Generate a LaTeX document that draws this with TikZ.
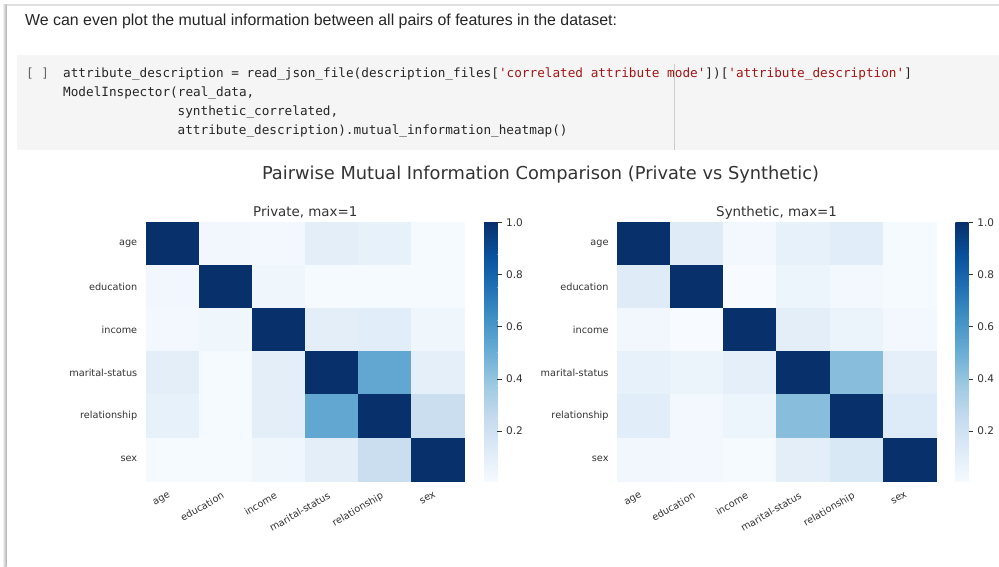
\documentclass[tikz,border=0pt]{standalone}
\usepackage{fontspec}
\setmainfont{Liberation Sans}
\newfontfamily\plotfont{DejaVu Sans}
\newfontfamily\codefont{DejaVu Sans Mono}
\usepackage{tikz}

% Blues colour map stops
\definecolor{b0}{HTML}{F7FBFF}
\definecolor{b1}{HTML}{DEEBF7}
\definecolor{b2}{HTML}{C6DBEF}
\definecolor{b3}{HTML}{9ECAE1}
\definecolor{b4}{HTML}{6BAED6}
\definecolor{b5}{HTML}{4292C6}
\definecolor{b6}{HTML}{2171B5}
\definecolor{b7}{HTML}{08519C}
\definecolor{b8}{HTML}{08306B}
\definecolor{labgrey}{HTML}{333333}
\definecolor{codebg}{HTML}{F5F5F5}
\definecolor{codegrey}{HTML}{262626}
\definecolor{strred}{HTML}{A31515}

\tikzset{
  ticklab/.style={font=\plotfont\fontsize{9.7}{11}\selectfont, text=labgrey, inner sep=0pt},
  barlab/.style={font=\plotfont\fontsize{10.5}{12}\selectfont, text=labgrey, inner sep=0pt},
  subtitle/.style={font=\plotfont\fontsize{13.4}{15}\selectfont, text=labgrey, inner sep=0pt},
  codeline/.style={font=\codefont\fontsize{12.7}{15}\selectfont, text=codegrey, anchor=base west, inner sep=0pt},
}

% one cell of a heat map: column, row, value
\newcommand{\heatcell}[3]{%
  \pgfmathtruncatemacro{\segk}{min(7,floor(#3*8))}%
  \pgfmathtruncatemacro{\segn}{\segk+1}%
  \pgfmathtruncatemacro{\segt}{round((#3*8-\segk)*100)}%
  \colorlet{cellfill}{b\segn!\segt!b\segk}%
  \fill[cellfill, draw=cellfill, line width=0.3pt] (#1*53.1,#2*43.2) rectangle +(53.1,43.2);%
}

% heat map with labels and colour bar: prefix, x shift, title, matrix
\newcommand{\heatmap}[4]{%
  \begin{scope}[shift={(#2,221.7)}]
    \foreach \rowvals [count=\r from 0] in {#4}
      \foreach \v [count=\c from 0] in \rowvals
        {\heatcell{\c}{\r}{\v}}
    \node[subtitle, anchor=base] (#1-title) at (159.3,-5) {#3};
    \foreach \lab [count=\i from 0] in {age,education,income,marital-status,relationship,sex} {
      \node[ticklab, anchor=east] (#1-row-\i) at (-8.6,\i*43.2+21.6) {\lab};
      \node[ticklab, rotate=30, anchor=north east] (#1-col-\i) at (\i*53.1+22,269.5) {\lab};
    }
    % colour bar
    \begin{scope}
      \clip (338,0) rectangle (351.3,259.3);
      \foreach \k [evaluate=\k as \kk using int(\k+1)] in {0,...,7}
        \shade[bottom color=b\k, top color=b\kk]
          (338,261.6-32.625*\k) rectangle (351.3,261.6-32.625*\kk);
    \end{scope}
    \foreach \v [count=\t] in {0.2,0.4,0.6,0.8,1.0}
      \draw[labgrey, line width=0.6pt] (351.3,261.6-261*\v) -- +(4.5,0)
        node[barlab, anchor=west, xshift=4pt] (#1-tick-\t) {\v};
  \end{scope}%
}

\begin{document}
\begin{tikzpicture}[x=1pt,y=-1pt]
  \fill[white] (0,0) rectangle (999,567);
  \useasboundingbox (0,0) rectangle (999,567);

  % card edges
  \shade[left color=white, right color=black!30] (2,5) rectangle (6.5,567);
  \draw[black!12, line width=1.5pt] (6.5,5) -- (999,5);

  \node[anchor=base west, inner sep=0pt, text=codegrey, font=\fontsize{15.9}{18}\selectfont] (intro) at (25,26)
    {We can even plot the mutual information between all pairs of features in the dataset:};

  % code cell
  \fill[codebg] (17,55) rectangle (999,150);
  \draw[black!20] (674.5,64) -- (674.5,150);
  \node[codeline, text=black!60] (run) at (26,78) {[ ]};
  \node[codeline] (code1) at (63,78)
    {attribute\_description = read\_json\_file(description\_files[\textcolor{strred}{'correlated attribute mode'}])[\textcolor{strred}{'attribute\_description'}]};
  \node[codeline] (code2) at (63,97) {ModelInspector(real\_data,};
  \node[codeline] (code3) at (177.5,116) {synthetic\_correlated,};
  \node[codeline] (code4) at (177.5,135) {attribute\_description).mutual\_information\_heatmap()};

  \node[font=\plotfont\fontsize{17.8}{20}\selectfont, text=labgrey, anchor=base, inner sep=0pt] (title) at (540.5,179)
    {Pairwise Mutual Information Comparison (Private vs Synthetic)};

  \heatmap{priv}{146}{Private, max=1}{%
    {1,0.03,0.02,0.10,0.08,0.01},
    {0.03,1,0.04,0.01,0.01,0.01},
    {0.02,0.04,1,0.10,0.11,0.04},
    {0.10,0.01,0.10,1,0.53,0.09},
    {0.08,0.01,0.10,0.53,1,0.23},
    {0.01,0.01,0.04,0.10,0.23,1}}
  \heatmap{synth}{617.3}{Synthetic, max=1}{%
    {1,0.12,0.02,0.08,0.11,0.01},
    {0.12,1,0.00,0.05,0.02,0.01},
    {0.03,0.00,1,0.10,0.06,0.02},
    {0.08,0.06,0.09,1,0.43,0.09},
    {0.11,0.02,0.05,0.43,1,0.13},
    {0.03,0.02,0.01,0.10,0.15,1}}
\end{tikzpicture}
\end{document}
